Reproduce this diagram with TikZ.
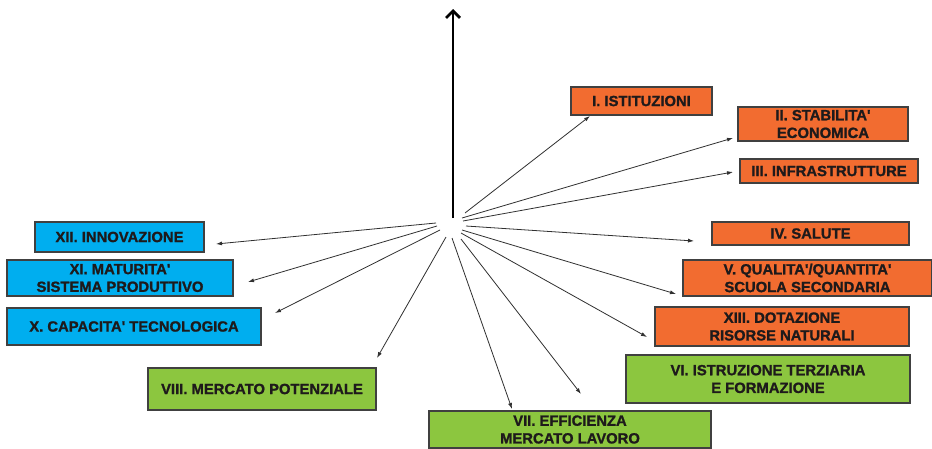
\documentclass[tikz,border=0pt]{standalone}
\usepackage{fontspec}
\setmainfont{Liberation Sans}[BoldFont={Liberation Sans Bold},BoldFeatures={FakeBold=1.2}]
\usetikzlibrary{arrows.meta}
\definecolor{boxorange}{HTML}{F26C30}
\definecolor{boxblue}{HTML}{00AEEF}
\definecolor{boxgreen}{HTML}{8CC63F}
\definecolor{boxborder}{HTML}{404040}
\definecolor{textdark}{HTML}{1E1A1B}
\definecolor{linedark}{HTML}{303030}
\newcommand{\apo}{\XeTeXglyph\XeTeXcharglyph"0027\relax}
\begin{document}
\begin{tikzpicture}[x=1pt,y=-1pt,
  box/.style={draw=boxborder, line width=1.3pt, inner sep=0pt, align=center,
    font=\bfseries\fontsize{14.8}{17.7}\selectfont, text=textdark},
  obox/.style={box, fill=boxorange},
  bbox/.style={box, fill=boxblue},
  gbox/.style={box, fill=boxgreen},
  conn/.style={draw=linedark, line width=0.8pt, -{Latex[length=6pt,width=4pt]}},
  mainarrow/.style={draw=black, line width=2.8pt, -{Straight Barb[length=7pt,width=14pt]}}]
\useasboundingbox (0,0) rectangle (932,448);
\fill[white] (0,0) rectangle (932,448);

% boxes
\node[obox, minimum width=141pt, minimum height=28pt] (n1) at (641.5,101) {I. ISTITUZIONI};
\node[obox, minimum width=170pt, minimum height=34pt] (n2) at (823,124) {II. STABILITA\apo\\ECONOMICA};
\node[obox, minimum width=178pt, minimum height=24pt] (n3) at (829,171) {III. INFRASTRUTTURE};
\node[obox, minimum width=197pt, minimum height=23pt] (n4) at (810.5,233.5) {IV. SALUTE};
\node[obox, minimum width=249pt, minimum height=36pt] (n5) at (807.5,278) {V. QUALITA\apo/QUANTITA\apo\\SCUOLA SECONDARIA};
\node[obox, minimum width=254pt, minimum height=39pt] (n13) at (782,326.5) {XIII. DOTAZIONE\\RISORSE NATURALI};
\node[gbox, minimum width=284pt, minimum height=48pt] (n6) at (768,379) {VI. ISTRUZIONE TERZIARIA\\E FORMAZIONE};
\node[gbox, minimum width=282pt, minimum height=37pt] (n7) at (570,429.5) {VII. EFFICIENZA\\MERCATO LAVORO};
\node[gbox, minimum width=228pt, minimum height=42pt] (n8) at (262,389) {VIII. MERCATO POTENZIALE};
\node[bbox, minimum width=254pt, minimum height=37pt] (n10) at (134,326.5) {X. CAPACITA\apo{} TECNOLOGICA};
\node[bbox, minimum width=226pt, minimum height=36pt] (n11) at (120,278) {XI. MATURITA\apo\\SISTEMA PRODUTTIVO};
\node[bbox, minimum width=169pt, minimum height=30pt] (n12) at (119.5,237) {XII. INNOVAZIONE};

% main vertical arrow
\coordinate (vb) at (453,218);
\coordinate (vt) at (453,9);
\draw[mainarrow] (vb) -- (vt);

% connector start and end points
\coordinate (s1) at (465,213);  \coordinate (e1) at (590,116);
\coordinate (s2) at (462,218);  \coordinate (e2) at (733,138);
\coordinate (s3) at (463,221);  \coordinate (e3) at (733,172);
\coordinate (s4) at (466,226);  \coordinate (e4) at (694,241);
\coordinate (s5) at (462,230);  \coordinate (e5) at (676,294);
\coordinate (s13) at (461,233); \coordinate (e13) at (647,337);
\coordinate (s6) at (461,239);  \coordinate (e6) at (581,394);
\coordinate (s7) at (452,238);  \coordinate (e7) at (512,409);
\coordinate (s8) at (446,237);  \coordinate (e8) at (377,358);
\coordinate (s10) at (440,230); \coordinate (e10) at (275,313);
\coordinate (s11) at (437,226); \coordinate (e11) at (248,282);
\coordinate (s12) at (436,223); \coordinate (e12) at (216,244);

\foreach \k in {1,2,3,4,5,13,6,7,8,10,11,12}{
  \draw[conn] (s\k) -- (e\k);
}
\end{tikzpicture}
\end{document}
